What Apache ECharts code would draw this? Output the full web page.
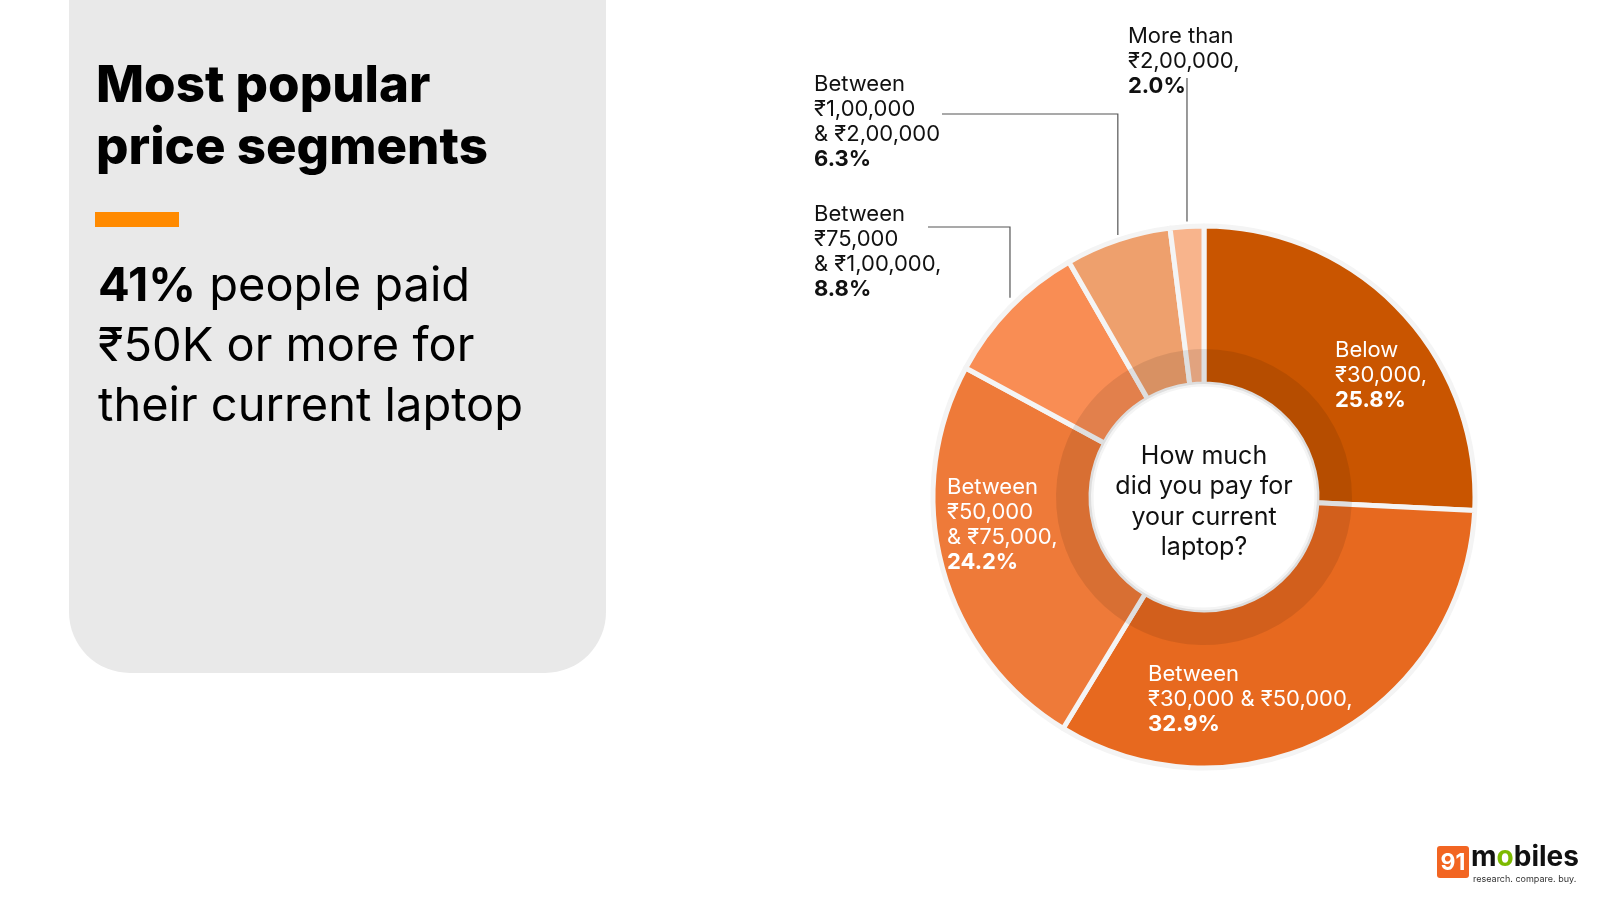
<!DOCTYPE html>
<html lang="en">
<head>
<meta charset="UTF-8">
<title>Most popular price segments</title>
<script src="https://cdn.jsdelivr.net/npm/echarts@6/dist/echarts.min.js"></script>
<style>
  html, body { margin: 0; padding: 0; background: #fff; }
  #chart { width: 1600px; height: 900px; }
</style>
</head>
<body>
<div id="chart"></div>
<script>
// price segments, clockwise from 12 o'clock
var segments = ['Below ₹30,000', 'Between ₹30,000 & ₹50,000', 'Between ₹50,000 & ₹75,000',
  'Between ₹75,000 & ₹1,00,000', 'Between ₹1,00,000 & ₹2,00,000', 'More than ₹2,00,000'];
var shares = [25.8, 32.9, 24.2, 8.8, 6.3, 2.0];
// label wording, broken into lines as on the slide
var labelTexts = ['Below\n₹30,000,', 'Between\n₹30,000 & ₹50,000,', 'Between\n₹50,000\n& ₹75,000,',
  'Between\n₹75,000\n& ₹1,00,000,', 'Between\n₹1,00,000\n& ₹2,00,000', 'More than\n₹2,00,000,'];

var colors = ['#C95500', '#E7691F', '#EE7A39', '#F98D54', '#EEA06D', '#F8B48C'];
var FONT = 'Inter, "Noto Sans", sans-serif';
// label top-left corners (px) and leader line bends
var labelPos = [[1335, 338], [1148, 662], [947, 475], [814, 202], [814, 72], [1128, 24]];
var leaders = [null, null, null, { y: 227, x: 928, gap: 10 }, { y: 114, x: 942, gap: 5 }, { y: 78, x: null, gap: 5 }];

var pieData = segments.map(function (name, i) {
  var outside = i >= 3;
  return {
    name: name,
    value: shares[i],
    itemStyle: { color: colors[i] },
    label: { position: outside ? 'outside' : 'inside', color: outside ? '#111' : '#fff' },
    labelLine: { show: outside }
  };
});

var chart = echarts.init(document.getElementById('chart'));
var option = {
  animation: false,
  backgroundColor: '#fff',
  title: [{
    text: 'Most popular\nprice segments',
    left: 91, top: 51, z: 10,
    textStyle: { fontFamily: FONT, fontSize: 51, fontWeight: 800, lineHeight: 62, color: '#000' }
  }, {
    text: '{b|41%} people paid\n₹50K or more for\ntheir current laptop',
    left: 93, top: 252, z: 10,
    textStyle: {
      fontFamily: FONT, fontSize: 47, fontWeight: 400, lineHeight: 60, color: '#000',
      rich: { b: { fontFamily: FONT, fontSize: 47, fontWeight: 700, lineHeight: 60, color: '#000' } }
    }
  }],
  graphic: [
    { type: 'rect', z: 0, shape: { x: 69, y: -100, width: 537, height: 773, r: 61 }, style: { fill: '#E9E9E9' } },
    { type: 'rect', z: 1, shape: { x: 95, y: 212, width: 84, height: 15 }, style: { fill: '#FF8A00' } },
    {
      type: 'text', z: 20, x: 1204, y: 502,
      style: {
        text: 'How much\ndid you pay for\nyour current\nlaptop?',
        align: 'center', verticalAlign: 'middle', textAlign: 'center', textVerticalAlign: 'middle',
        fontFamily: FONT, fontSize: 25, lineHeight: 30.5, fill: '#111'
      }
    },
    // 91mobiles logo
    { type: 'rect', z: 1, shape: { x: 1437, y: 846, width: 32, height: 32, r: 3 }, style: { fill: '#F26522' } },
    {
      type: 'text', z: 2, x: 1453, y: 863,
      style: { text: '91', align: 'center', verticalAlign: 'middle', fontFamily: FONT, fontSize: 23, fontWeight: 700, fill: '#fff' }
    },
    {
      type: 'text', z: 2, x: 1471, y: 844,
      style: {
        text: 'm{g|o}biles', fontFamily: FONT, fontSize: 28, fontWeight: 700, fill: '#111',
        rich: { g: { fontFamily: FONT, fontSize: 28, fontWeight: 700, fill: '#7DBA00', color: '#7DBA00' } }
      }
    },
    {
      type: 'text', z: 2, x: 1473, y: 875,
      style: { text: 'research. compare. buy.', fontFamily: FONT, fontSize: 9, fill: '#333' }
    }
  ],
  series: [{
    type: 'pie',
    center: [1204, 497],
    radius: [113, 271],
    startAngle: 90,
    clockwise: true,
    avoidLabelOverlap: false,
    itemStyle: { borderColor: '#F4F4F4', borderWidth: 5 },
    label: {
      fontFamily: FONT, fontSize: 22, lineHeight: 25, align: 'left',
      formatter: function (p) {
        return labelTexts[p.dataIndex] + '\n{b|' + shares[p.dataIndex].toFixed(1) + '%}';
      },
      rich: { b: { fontFamily: FONT, fontSize: 22, fontWeight: 700, lineHeight: 25 } }
    },
    labelLine: { lineStyle: { color: '#555', width: 1.2 } },
    labelLayout: function (params) {
      var i = params.dataIndex;
      var out = { x: labelPos[i][0], y: labelPos[i][1], align: 'left', verticalAlign: 'top' };
      var ld = leaders[i];
      if (ld && params.labelLinePoints) {
        var e = params.labelLinePoints[0];
        out.labelLinePoints = [[e[0], e[1] - ld.gap], [e[0], ld.y], [ld.x == null ? e[0] : ld.x, ld.y]];
      }
      return out;
    },
    emphasis: { disabled: true },
    data: pieData
  }, {
    // darker inner band
    type: 'pie',
    center: [1204, 497],
    radius: [113, 148],
    startAngle: 90,
    silent: true,
    z: 3,
    itemStyle: { color: 'rgba(0,0,0,0.09)', borderWidth: 0 },
    label: { show: false },
    labelLine: { show: false },
    data: shares.map(function (v, i) { return { name: segments[i], value: v }; })
  }]
};
chart.setOption(option);
</script>
</body>
</html>
